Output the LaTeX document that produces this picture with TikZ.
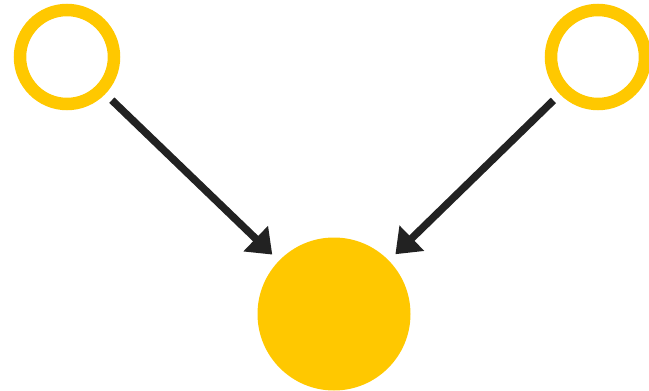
\documentclass[tikz,border=0pt]{standalone}
\usetikzlibrary{arrows.meta}
\definecolor{gold}{RGB}{255,200,0}
\definecolor{arr}{RGB}{34,34,34}
\begin{document}
\begin{tikzpicture}[x=1pt,y=-1pt,
  ring/.style={circle,draw=gold,line width=12.5pt,minimum size=94pt,inner sep=0pt},
  disc/.style={circle,fill=gold,minimum size=153pt,inner sep=0pt},
  conn/.style={draw=arr,line width=7.5pt,-{Triangle[length=23pt,width=34pt]},shorten <=9pt,shorten >=9pt}]
\useasboundingbox (0,0) rectangle (649,391);
\node[ring] (a) at (67,57) {};
\node[ring] (b) at (598,57) {};
\node[disc] (c) at (334,314) {};
\draw[conn] (a) -- (c);
\draw[conn] (b) -- (c);
\end{tikzpicture}
\end{document}
